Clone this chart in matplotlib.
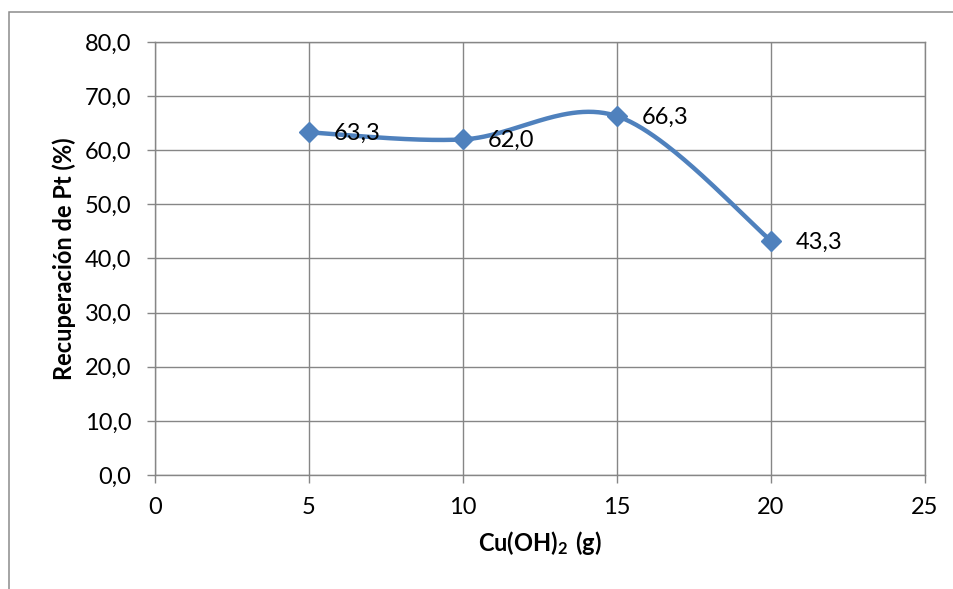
import matplotlib
matplotlib.use("Agg")
import matplotlib.pyplot as plt
from matplotlib.patches import Rectangle
from matplotlib.ticker import FuncFormatter
import numpy as np

# datos
cu_oh2 = [5, 10, 15, 20]
recuperacion = [63.3, 62.0, 66.3, 43.3]
etiquetas = ["63,3", "62,0", "66,3", "43,3"]

plt.rcParams['font.family'] = ['Lato', 'DejaVu Sans']
plt.rcParams['mathtext.fontset'] = 'custom'
plt.rcParams['mathtext.rm'] = 'Lato'
plt.rcParams['mathtext.bf'] = 'Lato:bold'

gris = '#868686'
azul = '#4F81BD'


def curva_suave(x, y, n=60):                      # suavizado tipo Excel (Bezier / Catmull-Rom)
    p = np.column_stack([x, y]).astype(float)
    p_ext = np.vstack([p[0], p, p[-1]])
    xs, ys = [], []
    t = np.linspace(0, 1, n)[:, None]
    for i in range(len(p) - 1):
        p0, p1, p2, p3 = p_ext[i], p_ext[i + 1], p_ext[i + 2], p_ext[i + 3]
        c1 = p1 + (p2 - p0) / 6
        c2 = p2 - (p3 - p1) / 6
        b = (1 - t)**3 * p1 + 3 * (1 - t)**2 * t * c1 + 3 * (1 - t) * t**2 * c2 + t**3 * p2
        xs.extend(b[:, 0])
        ys.extend(b[:, 1])
    return np.array(xs), np.array(ys)


fig = plt.figure(figsize=(9.54, 5.89), dpi=100)
ax = fig.add_axes([155/954, 1 - 475/589, 770/954, 433/589])

# marco exterior del grafico
fig.add_artist(Rectangle((9/954, -0.1), 1.2, 1 - 12/589 + 0.1, transform=fig.transFigure,
                         fill=False, edgecolor='#8c8c8c', linewidth=1.1))

xs, ys = curva_suave(cu_oh2, recuperacion)
ax.plot(xs, ys, color=azul, lw=3.2, solid_capstyle='round', zorder=3)
ax.plot(cu_oh2, recuperacion, lw=0, marker='D', ms=10.5, color=azul,
        markeredgecolor=azul, zorder=4)

for xv, yv, txt in zip(cu_oh2, recuperacion, etiquetas):
    ax.annotate(txt, (xv, yv), xytext=(18, -1), textcoords='offset points',
                ha='left', va='center', fontsize=17, color='black', zorder=5)

ax.set_xlim(0, 25)
ax.set_ylim(0, 80)
ax.set_xticks(np.arange(0, 26, 5))
ax.set_yticks(np.arange(0, 81, 10))
ax.yaxis.set_major_formatter(FuncFormatter(lambda v, pos: f"{v:.1f}".replace('.', ',')))
ax.grid(True, color=gris, linewidth=1.0)
ax.set_axisbelow(True)
for s in ax.spines.values():
    s.set_color(gris)
    s.set_linewidth(1.0)
ax.tick_params(direction='out', length=6, width=1.0, color=gris,
               labelsize=17, labelcolor='black')
ax.tick_params(axis='y', pad=11)
ax.tick_params(axis='x', pad=10)

ax.set_xlabel(r'$\mathbf{Cu(OH)_2\ (g)}$', fontsize=17, labelpad=8)
ax.set_ylabel('Recuperación de Pt (%)', fontsize=17, fontweight='bold', labelpad=6)

plt.savefig("out.png", dpi=100)
